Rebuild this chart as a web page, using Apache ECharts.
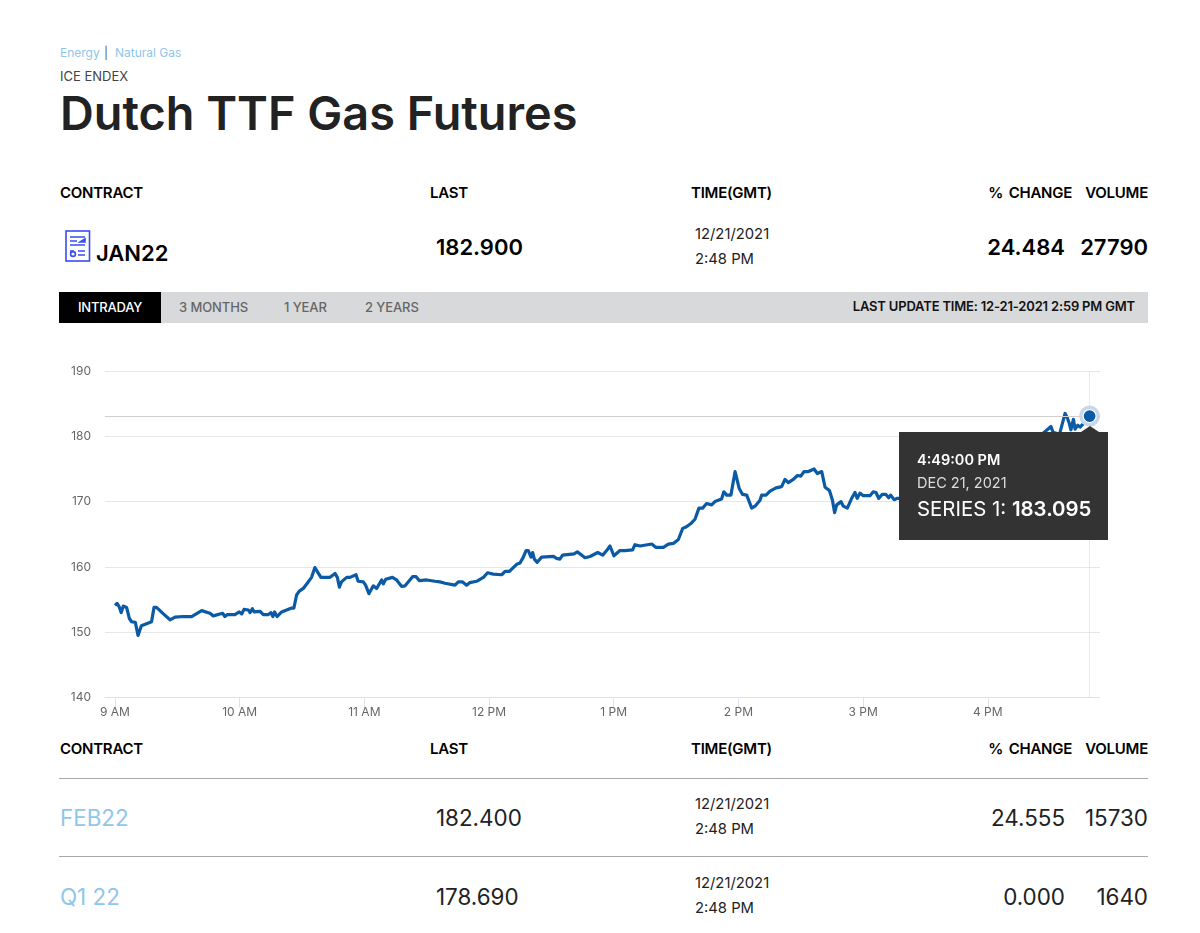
<!DOCTYPE html>
<html>
<head>
<meta charset="utf-8">
<title>Dutch TTF Gas Futures</title>
<script src="https://cdn.jsdelivr.net/npm/echarts@6/dist/echarts.min.js"></script>
<style>
html,body{margin:0;padding:0;background:#fff;}
body{width:1200px;height:933px;position:relative;overflow:hidden;font-family:Inter,"Liberation Sans",sans-serif;color:#111;}
.t{position:absolute;line-height:20px;height:20px;white-space:nowrap;}
.r{text-align:right;}
.head{font-size:15px;font-weight:600;letter-spacing:-0.25px;word-spacing:2px;color:#000;}
.big{font-size:22px;font-weight:600;color:#000;}
.num{font-size:22.4px;font-weight:400;color:#222;}
.when{font-size:14.8px;color:#222;}
.link{color:#8fc6ea;}
.rule{position:absolute;left:59px;width:1089px;height:1px;background:#a8a8a8;}
#bar{position:absolute;left:59px;top:292px;width:1089px;height:31px;background:#d8d9da;}
#tab{position:absolute;left:59px;top:292px;width:102px;height:31px;background:#000;}
.tab{font-size:13px;font-weight:500;color:#666;letter-spacing:-0.1px;}
#main{position:absolute;left:0;top:350px;width:1200px;height:385px;}
</style>
</head>
<body>

<div class="t link" style="left:60px;top:42.5px;font-size:12px;">Energy</div>
<div class="t" style="left:104px;top:42.5px;font-size:12px;color:#555;">|</div>
<div class="t link" style="left:115px;top:42.5px;font-size:12px;">Natural Gas</div>
<div class="t" style="left:60px;top:65.5px;font-size:13px;color:#444;">ICE ENDEX</div>
<div class="t" style="left:60px;top:87px;height:52px;line-height:52px;font-size:46.8px;font-weight:600;color:#222;">Dutch TTF Gas Futures</div>

<div class="t head" style="left:60px;top:183px;">CONTRACT</div>
<div class="t head" style="left:430px;top:183px;">LAST</div>
<div class="t head" style="left:691px;top:183px;">TIME(GMT)</div>
<div class="t head r" style="right:128px;top:183px;">% CHANGE</div>
<div class="t head r" style="right:52px;top:183px;">VOLUME</div>

<svg style="position:absolute;left:65px;top:230px;" width="26" height="32" viewBox="0 0 26 32" fill="none" stroke="#3a4cf5" stroke-width="1.6">
  <rect x="1" y="1" width="23.5" height="30"/>
  <path d="M5 7h15M5 11h7M5 15h15M5 21h4M13 21h7M13 25h7M5 19v0" />
  <path d="M15 12l5-3v3z" fill="#3a4cf5"/>
  <circle cx="8" cy="24" r="2.4"/>
</svg>
<div class="t big" style="left:96px;top:243px;">JAN22</div>
<div class="t big" style="left:436px;top:237px;">182.900</div>
<div class="t when" style="left:695px;top:224px;">12/21/2021</div>
<div class="t when" style="left:695px;top:249px;">2:48 PM</div>
<div class="t big r" style="right:135px;top:237px;">24.484</div>
<div class="t big r" style="right:52px;top:237px;">27790</div>

<div id="bar"></div>
<div id="tab"></div>
<div class="t tab" style="left:78px;top:297px;color:#fff;letter-spacing:-0.2px;">INTRADAY</div>
<div class="t tab" style="left:179px;top:297px;">3 MONTHS</div>
<div class="t tab" style="left:284px;top:297px;">1 YEAR</div>
<div class="t tab" style="left:365px;top:297px;">2 YEARS</div>
<div class="t r" style="right:65px;top:296px;font-size:13px;font-weight:600;letter-spacing:-0.18px;color:#111;">LAST UPDATE TIME: 12-21-2021 2:59 PM GMT</div>

<div id="main"></div>

<div class="t head" style="left:60px;top:739px;">CONTRACT</div>
<div class="t head" style="left:430px;top:739px;">LAST</div>
<div class="t head" style="left:691px;top:739px;">TIME(GMT)</div>
<div class="t head r" style="right:128px;top:739px;">% CHANGE</div>
<div class="t head r" style="right:52px;top:739px;">VOLUME</div>
<div class="rule" style="top:778px;"></div>

<div class="t num link" style="left:60px;top:808px;">FEB22</div>
<div class="t num" style="left:436px;top:808px;">182.400</div>
<div class="t when" style="left:695px;top:794px;">12/21/2021</div>
<div class="t when" style="left:695px;top:819px;">2:48 PM</div>
<div class="t num r" style="right:135px;top:808px;">24.555</div>
<div class="t num r" style="right:52px;top:808px;">15730</div>
<div class="rule" style="top:856px;"></div>

<div class="t num link" style="left:60px;top:887px;">Q1 22</div>
<div class="t num" style="left:436px;top:887px;">178.690</div>
<div class="t when" style="left:695px;top:873px;">12/21/2021</div>
<div class="t when" style="left:695px;top:898px;">2:48 PM</div>
<div class="t num r" style="right:135px;top:887px;">0.000</div>
<div class="t num r" style="right:52px;top:887px;">1640</div>

<script type="text/javascript">
// minutes after 9 AM
var minutes = [0,1,2,3,4,5.6,6.9,8,9.8,11.1,12.7,15.2,17.6,18.8,20,23.3,26.5,28.9,32.9,36.9,41.7,45.7,47.3,51.8,52.9,54.1,57.7,59.8,61,62.1,64.2,65,66.1,67,69.8,71.4,73.8,75.1,76,76.8,78,80.2,85,86.1,87.4,88.7,90.6,93,94.6,96.2,97,99.1,103.5,105.9,107,108,109,111.5,113.1,116,117,119.5,120.6,122.2,124.3,125.9,128.3,129.1,130.3,131,133.5,135.5,138,139.6,143.2,144.9,146.5,150,154,154.8,156.4,158.8,163.6,165.2,167.3,169.2,170.8,174,177.3,179.3,182,186.1,187.7,189.8,193.3,194.9,196.5,197.8,198.9,200.2,201,201.8,203.2,205.3,211,211.7,212.5,214.1,215.4,220.9,222.5,226.2,228.6,232.3,234.7,236.6,238.2,240.1,243,245.4,246.2,249.1,250.2,252.7,258.3,260.2,263.9,266.3,268.7,271.1,273.2,274.8,277,279.1,281,282.8,284.7,287.1,288.7,291.9,293,294.4,296.4,298.4,300.4,302,304,306.4,308,310.4,311.2,313.3,315.2,318.1,320.8,322.4,324,326.4,328.4,330,331.6,333.7,336.4,338,340.1,341.7,343.8,345.2,346.3,347.3,349.4,350.5,352.4,354.5,356.1,357.2,358.5,360.1,363.3,364.9,366.2,367.5,369.2,371,372.3,373.3,374.9,376.5,377.8,385,395,405,415,425,435,445,450.4,451.4,454.5,457.2,458.3,459.2,460,461.2,462,463.3,464.4,466.8,469];
var prices = [154.1,154.4,153.9,153,154,153.8,152.1,151.6,151.5,149.5,151,151.3,151.6,153.8,153.8,152.8,151.9,152.3,152.4,152.4,153.3,152.9,152.5,152.9,152.4,152.7,152.7,153.1,152.8,153.5,153.4,153,153.6,153.1,153.2,152.7,152.7,153,152.4,153.1,152.4,153.1,153.7,153.7,155.7,156.3,156.7,157.7,158.4,159.9,159.9,158.4,158.4,159,158.4,156.9,157.7,158.4,158.4,158.8,157.8,157.7,157.2,155.9,157.1,156.7,158,157.4,158.1,158,158.4,158,157,157.1,158.5,158.5,157.9,158,157.8,158,157.7,157.5,157.2,157.7,157.7,157.2,157.6,157.8,158.4,159.1,158.9,158.8,159.3,159.3,160.4,160.6,161.5,162.5,162.5,161.5,162.2,161.2,160.7,161.5,161.6,161.7,161.3,161.2,161.8,162,162.3,161.4,161.6,162.2,161.8,162.5,163.2,161.7,162.5,162.5,162.2,162.6,163.4,163.2,163.5,163,163,163.5,163.6,164.2,165.9,166.1,166.6,167.3,169,169,169.7,169.5,170,170.4,171.5,171,171,174.6,172,171.1,171,169,169.3,170.2,171,171,171.6,172.1,172.3,173.4,172.9,173.4,174,173.9,174.6,174.6,175,174.3,174.6,172.2,171.7,170.3,168.3,169.5,170,169.3,169,170.5,171.4,170.5,171.3,170.9,170.9,171.5,171.4,170.5,171.1,171.1,170.6,171,170.3,170.5,170.5,171,172,173.5,175,176.5,178,180,181.5,180.6,180.3,183.5,182.8,182,181,182.6,181.1,181.7,181.4,182.2,183.095];

var tickMinutes = [0,60,120,180,240,300,360,420];
var tickLabels = ['9 AM','10 AM','11 AM','12 PM','1 PM','2 PM','3 PM','4 PM'];

var lastMinute = minutes[minutes.length-1];
var lastPrice = prices[prices.length-1];
var lineData = [];
for(var i=0;i<minutes.length;i++){
	lineData.push([minutes[i],prices[i]]);
}

var myChart = echarts.init(document.getElementById('main'));
myChart.setOption({
	animation:false,
	textStyle:{fontFamily:'Inter, "Liberation Sans", sans-serif'},
	grid:{left:105,right:100,top:21,height:326.5},
	xAxis:{
		type:'value',
		min:-4.8,
		max:474,
		splitLine:{show:false},
		axisLine:{show:true,lineStyle:{color:'#dbe1f0',width:1}},
		axisTick:{show:true,length:10,customValues:tickMinutes,lineStyle:{color:'#dbe1f0'}},
		axisLabel:{
			customValues:tickMinutes,
			color:'#666',
			fontSize:12,
			margin:9,
			formatter:function(v){return tickLabels[tickMinutes.indexOf(v)];}
		}
	},
	yAxis:{
		type:'value',
		min:140,
		max:190,
		interval:10,
		axisLine:{show:false},
		axisTick:{show:false},
		axisLabel:{color:'#666',fontSize:12,margin:14,padding:[2,0,0,0]},
		splitLine:{lineStyle:{color:'#e6e6e6',width:1}}
	},
	tooltip:{
		trigger:'item',
		triggerOn:'none',
		alwaysShowContent:true,
		transitionDuration:0,
		position:[899,82],
		padding:0,
		borderWidth:0,
		backgroundColor:'#333',
		extraCssText:'box-shadow:none;border-radius:0;width:209px;height:108px;overflow:visible;',
		formatter:function(){
			return '<div style="position:relative;width:209px;height:108px;color:#fff;font-family:Inter,sans-serif;">'
				+'<div style="position:absolute;left:182px;top:-6px;width:0;height:0;border-left:9px solid transparent;border-right:9px solid transparent;border-bottom:6px solid #333;"></div>'
				+'<div style="position:absolute;left:18px;top:18px;font-size:14.5px;font-weight:600;line-height:20px;">4:49:00 PM</div>'
				+'<div style="position:absolute;left:18px;top:41px;font-size:14.5px;line-height:20px;color:#ddd;">DEC 21, 2021</div>'
				+'<div style="position:absolute;left:18px;top:64px;font-size:20.4px;line-height:26px;">SERIES 1: <b style="font-weight:600;">183.095</b></div>'
				+'</div>';
		}
	},
	series:[
		{
			name:'Series 1',
			type:'line',
			data:lineData,
			showSymbol:false,
			lineStyle:{color:'#0b5aa6',width:3.2,join:'round'},
			markLine:{
				silent:true,
				symbol:'none',
				label:{show:false},
				data:[
					{yAxis:lastPrice,lineStyle:{color:'#cfcfcf',width:1,type:'solid'}},
					{xAxis:lastMinute,lineStyle:{color:'#d4d4d4',width:1,type:'dotted'}}
				]
			},
			z:3
		},
		{
			type:'scatter',
			data:[[lastMinute,lastPrice]],
			symbolSize:21,
			itemStyle:{color:'#c6d8ec',opacity:1},
			z:4
		},
		{
			type:'scatter',
			data:[[lastMinute,lastPrice]],
			symbolSize:13,
			itemStyle:{color:'#0b5aa6',opacity:1,borderColor:'#fff',borderWidth:1.2},
			z:5
		}
	]
});
// the tooltip needs a drawn symbol to anchor on, the line has none
myChart.dispatchAction({type:'showTip',seriesIndex:2,dataIndex:0});
</script>
</body>
</html>
